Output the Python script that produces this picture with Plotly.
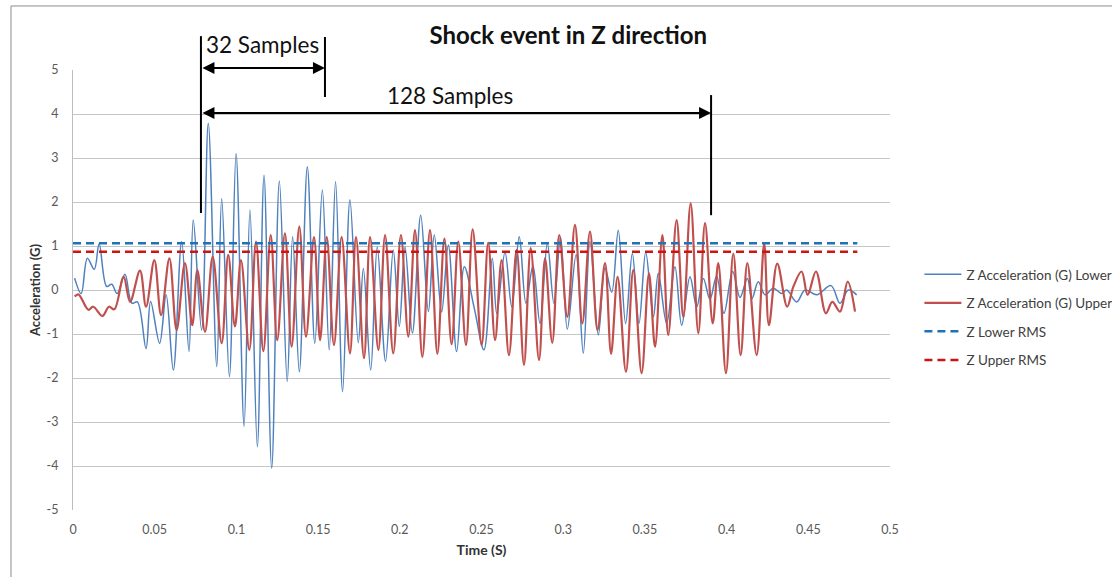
import plotly.graph_objects as go

# ---- data (time in s, acceleration in G) ----
lower_t = [0.001, 0.005, 0.0088, 0.013, 0.016, 0.0206, 0.0237, 0.027, 0.0318, 0.036,
           0.0394, 0.0447, 0.0475, 0.053, 0.057, 0.0614, 0.0665, 0.071, 0.0736,
           0.0787, 0.0828, 0.088, 0.091, 0.0957, 0.0998, 0.1047, 0.1083, 0.1128, 0.1169,
           0.1216, 0.1263, 0.1311, 0.1344, 0.1385,
           0.1434, 0.148, 0.1526, 0.1568, 0.1607, 0.165, 0.1695, 0.1746, 0.1777, 0.1822,
           0.1862, 0.1913, 0.196, 0.1997, 0.2032,
           0.2077, 0.2128, 0.2175, 0.2211, 0.2256, 0.2297, 0.2348, 0.2395, 0.2455, 0.2515, 0.2566,
           0.2593, 0.2644, 0.2685, 0.2731, 0.2772, 0.2815, 0.2858, 0.2903, 0.2943, 0.2984,
           0.3025, 0.3079, 0.3123,
           0.3164, 0.3215, 0.3256, 0.3297, 0.3337, 0.3382, 0.3423, 0.3464, 0.3505, 0.3552, 0.3582,
           0.3633, 0.3684, 0.3725, 0.3776, 0.3817, 0.3858, 0.3898, 0.3939, 0.3984, 0.4037,
           0.4082, 0.4127,
           0.4155, 0.4194, 0.4235, 0.4286, 0.4337, 0.4368, 0.4429, 0.448, 0.4551, 0.4639,
           0.4694, 0.4745, 0.4796]
lower_g = [0.27, -0.08, 0.72, 0.47, 1.05, 0.08, 0.13, -0.08, 0.36, -0.3,
           -0.27, -1.33, -0.26, -1.21, -0.11, -1.82, 1.1, -1.4, 1.59,
           -0.91, 3.79, -1.74, 2.08, -1.97, 3.1, -3.1, 1.82, -3.56, 2.61,
           -4.05, 2.48, -2.08, 1.21, -1.86,
           2.8, -1.21, 2.27, -1.36, 2.46, -2.31, 2.05, -1.2, 0.49, -1.82,
           0.98, -1.62, 0.91, -0.83, 0.98,
           -0.98, 1.7, -0.49, 1.25, -0.5, 1.02, -1.4, 0.53, -0.4, -1.36, 0.72,
           -0.53, 0.86, -0.38, 1.21, -0.3, 0.55, -0.76, 1.06, -0.3, 1.2,
           -0.89, 0.8, -1.44,
           1.1, -1.02, 0.5, -0.05, 1.36, -0.76, 0.83, -0.76, 0.86, -0.61, 0.38,
           -0.76, 0.53, -0.8, 0.3, -0.38, 0.26, -0.21, 0.32, -0.53, 0.42,
           -0.17, 0.26,
           -0.2, 0.19, -0.11, 0.04, -0.08, 0.0, -0.27, 0.0, -0.11, 0.1,
           -0.3, 0.0, -0.11]

upper_t = [0.001, 0.0033, 0.0094, 0.0124, 0.018, 0.022, 0.0253, 0.031, 0.0349, 0.041,
           0.0447, 0.0498, 0.0539, 0.059, 0.0634, 0.0685, 0.073,
           0.0761, 0.0808, 0.0855, 0.091, 0.095, 0.0991, 0.1028, 0.1079, 0.112, 0.1165,
           0.121, 0.125, 0.1297, 0.1338, 0.1385,
           0.1426, 0.1475, 0.1512, 0.1553, 0.1597, 0.1644, 0.1695, 0.1732, 0.1781, 0.1818,
           0.1869, 0.191, 0.196, 0.2007, 0.2052,
           0.2093, 0.2138, 0.2185, 0.223, 0.2273, 0.2317, 0.2358, 0.2405, 0.2446, 0.2501, 0.2541,
           0.2583, 0.2623, 0.2668, 0.2715, 0.276, 0.2801, 0.2852, 0.2889, 0.2933, 0.2976,
           0.3025, 0.3072,
           0.3117, 0.3164, 0.321, 0.3256, 0.3293, 0.3333, 0.3384, 0.3429, 0.348, 0.3525,
           0.3562, 0.3607,
           0.3643, 0.3694, 0.3735, 0.378, 0.3827, 0.3868, 0.3915, 0.3949, 0.3996, 0.4041,
           0.4086, 0.4127,
           0.4184, 0.423, 0.4259, 0.431, 0.4371, 0.4408, 0.4459, 0.4496, 0.4547, 0.4608,
           0.4647, 0.4694, 0.4741, 0.4786]
upper_g = [-0.15, -0.1, -0.45, -0.38, -0.59, -0.38, -0.44, 0.3, -0.27, 0.44,
           -0.38, 0.68, -0.57, 0.72, -0.91, 0.61, -0.8,
           0.45, -0.95, 0.76, -1.21, 0.8, -0.83, 0.68, -1.36, 1.1, -1.39,
           1.25, -1.14, 1.29, -1.29, 1.44,
           -1.06, 1.2, -1.14, 1.2, -1.25, 1.2, -1.44, 1.2, -1.55, 1.2,
           -1.36, 1.25, -1.44, 1.25, -1.06,
           1.36, -1.52, 1.36, -1.45, 1.17, -1.23, 1.1, -1.25, 1.38, -1.25, 1.08,
           -1.14, 0.68, -1.48, 0.91, -1.7, 0.95, -1.59, 0.72, -1.2, 1.25,
           -0.61, 1.48,
           -0.76, 1.33, -0.91, 0.61, -1.45, 0.3, -1.86, 0.45, -1.89, 0.38,
           -1.29, 1.25,
           -1.02, 1.59, -0.61, 1.97, -0.98, 1.52, -0.76, 0.61, -1.89, 0.83,
           -1.48, 0.61,
           -1.48, 1.06, -0.8, 0.6, -0.38, 0.07, 0.42, -0.11, 0.42, -0.53,
           -0.27, -0.49, 0.19, -0.49]

rms_t = [0.0, 0.48]
lower_rms = 1.06
upper_rms = 0.87

series_names = ["Z Acceleration (G) Lower", "Z Acceleration (G) Upper",
                "Z Lower RMS", "Z Upper RMS"]

y_ticks = [-5, -4, -3, -2, -1, 0, 1, 2, 3, 4, 5]
y_tick_labels = ["-5", "-4", "-3", "-2", "-1", "0", "1", "2", "3", "4", "5"]

# sample-window markers (time, s)
window_start = 0.0783
window_32_end = 0.1542
window_128_end = 0.3905
x_max = 0.5

FONT = "Lato"

fig = go.Figure()
fig.add_trace(go.Scatter(x=lower_t, y=lower_g, mode="lines", name=series_names[0],
                         line=dict(color="#4F81BD", width=1.5, shape="spline", smoothing=1.0),
                         legendgroup="a"))
fig.add_trace(go.Scatter(x=upper_t, y=upper_g, mode="lines", name=series_names[1],
                         line=dict(color="#C0504D", width=2.2, shape="spline", smoothing=1.0),
                         legendgroup="b"))
fig.add_trace(go.Scatter(x=rms_t, y=[lower_rms] * len(rms_t), mode="lines", name=series_names[2],
                         line=dict(color="#1F72B8", width=2.5, dash="8px,5px"),
                         legendgroup="c"))
fig.add_trace(go.Scatter(x=rms_t, y=[upper_rms] * len(rms_t), mode="lines", name=series_names[3],
                         line=dict(color="#CC1414", width=2.5, dash="8px,5px"),
                         legendgroup="d"))

def px(t):
    return t / x_max

line_style = dict(color="black", width=2)
shapes = [
    # outer chart frame
    dict(type="rect", xref="paper", yref="paper", x0=-0.0759, x1=2.0, y0=-1.0, y1=1.1455,
         line=dict(color="#8C8C8C", width=1), layer="below"),
    dict(type="line", xref="paper", yref="paper", x0=px(window_start), x1=px(window_start),
         y0=0.675, y1=1.077, line=line_style),
    dict(type="line", xref="paper", yref="paper", x0=px(window_32_end), x1=px(window_32_end),
         y0=0.9386, y1=1.075, line=line_style),
    dict(type="line", xref="paper", yref="paper", x0=px(window_128_end), x1=px(window_128_end),
         y0=0.670, y1=0.943, line=line_style),
]

annotations = [
    dict(x=window_32_end, ax=window_start, xref="x", axref="x", y=1.0045, yref="paper",
         ay=0, ayref="pixel", text="", showarrow=True, arrowside="end+start",
         arrowhead=2, arrowsize=1.2, arrowwidth=2, arrowcolor="black", standoff=0, startstandoff=0),
    dict(x=window_128_end, ax=window_start, xref="x", axref="x", y=0.902, yref="paper",
         ay=0, ayref="pixel", text="", showarrow=True, arrowside="end+start",
         arrowhead=2, arrowsize=1.2, arrowwidth=2, arrowcolor="black", standoff=0, startstandoff=0),
    dict(x=(window_start + window_32_end) / 2 - 0.0004, xref="x", y=1.059, yref="paper",
         xanchor="center", yanchor="middle",
         text="32 Samples", showarrow=False, font=dict(family=FONT, size=22.5, color="#111111")),
    dict(x=0.2309, xref="x", y=0.943, yref="paper", xanchor="center", yanchor="middle",
         text="128 Samples", showarrow=False, font=dict(family=FONT, size=22.5, color="#111111")),
]

fig.update_layout(
    width=1112, height=577,
    paper_bgcolor="white", plot_bgcolor="white",
    margin=dict(l=73, r=222, t=70, b=67, autoexpand=False),
    title=dict(text="<b>Shock event in Z direction</b>", x=0.511, xref="container",
               y=0.939, yref="container", xanchor="center", yanchor="middle",
               font=dict(family=FONT, size=24, color="#111111")),
    font=dict(family=FONT, size=12, color="#595959"),
    xaxis=dict(range=[0, x_max], dtick=0.05, tick0=0, showgrid=False, zeroline=False,
               showline=False, ticks="", ticklabelstandoff=10,
               tickfont=dict(family=FONT, size=12.5, color="#595959"),
               title=dict(text="<b>Time (S)</b>", standoff=9,
                          font=dict(family=FONT, size=14, color="#333333"))),
    yaxis=dict(range=[-5, 5], tickmode="array", tickvals=y_ticks, ticktext=y_tick_labels,
               showgrid=True, gridcolor="#C6C6C6", gridwidth=1,
               zeroline=True, zerolinecolor="#C6C6C6", zerolinewidth=1,
               showline=True, linecolor="#BDBDBD", linewidth=1, ticks="", ticklabelstandoff=11,
               tickfont=dict(family=FONT, size=12.5, color="#595959"),
               title=dict(text="<b>Acceleration (G)</b>", standoff=3,
                          font=dict(family=FONT, size=13, color="#333333"))),
    legend=dict(x=1.036, xanchor="left", y=0.5705, yanchor="top", traceorder="grouped",
                tracegroupgap=8, bgcolor="rgba(0,0,0,0)", itemwidth=37,
                font=dict(family=FONT, size=13.5, color="#404040")),
    shapes=shapes,
    annotations=annotations,
)

fig.write_html("out.html")
